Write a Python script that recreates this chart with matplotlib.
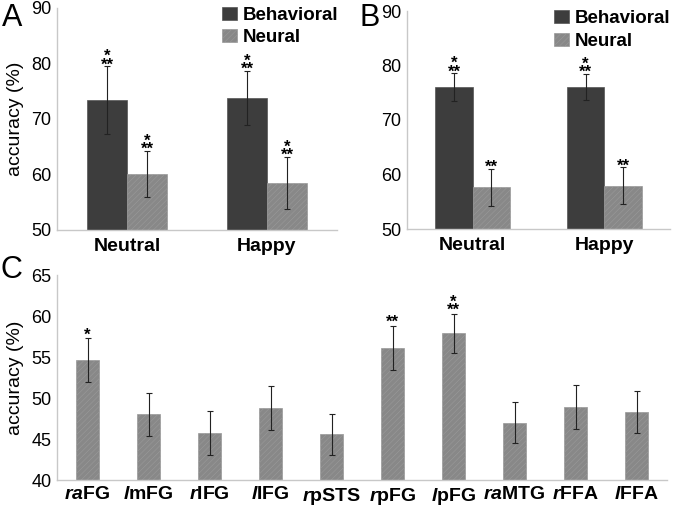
import matplotlib
matplotlib.use("Agg")
import matplotlib.pyplot as plt
from matplotlib.patches import Patch
import numpy as np

plt.rcParams['font.family'] = ['Liberation Sans', 'DejaVu Sans']
plt.rcParams['mathtext.fontset'] = 'custom'
plt.rcParams['mathtext.it'] = 'Liberation Sans:italic:bold'
plt.rcParams['mathtext.rm'] = 'Liberation Sans:bold'
plt.rcParams['hatch.linewidth'] = 0.4

# panel A / B data
conditions = ['Neutral', 'Happy']
series = ['Behavioral', 'Neural']

a_behav = [73.4, 73.8]
a_behav_err = [6.1, 4.9]
a_neural = [60.1, 58.5]
a_neural_err = [4.2, 4.7]
a_stars_behav = ['*\n**', '*\n**']
a_stars_neural = ['*\n**', '*\n**']

b_behav = [76.0, 76.1]
b_behav_err = [2.6, 2.4]
b_neural = [57.7, 57.9]
b_neural_err = [3.4, 3.4]
b_stars_behav = ['*\n**', '*\n**']
b_stars_neural = ['**', '**']

# panel C data
regions = ['ra|FG', 'l|mFG', 'r|IFG', 'l|IFG', 'r|pSTS',
           'r|pFG', 'l|pFG', 'ra|MTG', 'r|FFA', 'l|FFA']
c_vals = [54.6, 48.0, 45.7, 48.8, 45.6, 56.1, 57.9, 47.0, 48.9, 48.3]
c_err = [2.7, 2.6, 2.7, 2.7, 2.5, 2.7, 2.4, 2.5, 2.7, 2.6]
c_stars = ['*', '', '', '', '', '**', '*\n**', '', '', '']

DARK = '#3d3d3d'
GREY = '#888888'
SPINE = '#c8c8c8'

W, H = 675, 511
fig = plt.figure(figsize=(W / 100, H / 100), dpi=100)


def px_axes(left, top, right, bottom):
    return fig.add_axes([left / W, 1 - bottom / H, (right - left) / W, (bottom - top) / H])


def style(ax):
    for s in ['top', 'right']:
        ax.spines[s].set_visible(False)
    for s in ['left', 'bottom']:
        ax.spines[s].set_color(SPINE)
        ax.spines[s].set_linewidth(1.0)
    ax.tick_params(axis='both', length=0)
    ax.tick_params(axis='y', labelsize=13, pad=4)


def stars(ax, x, top, txt, gap=0):
    # one text, "*" stacked tightly over "**"
    if not txt:
        return
    ax.annotate(txt, (x, top), xytext=(0, gap - 4.5), textcoords='offset points',
                ha='center', va='bottom', multialignment='center',
                linespacing=0.45, fontsize=12, fontweight='bold')


def grouped(ax, behav, behav_err, neural, neural_err, st_b, st_n):
    x = np.arange(len(conditions))
    w = 0.285
    ax.bar(x - w / 2, behav, w, color=DARK, edgecolor='#555555', linewidth=0.5,
           label=series[0], zorder=2)
    ax.bar(x + w / 2, neural, w, color=GREY, edgecolor='#9a9a9a', linewidth=0.5,
           hatch='//////', label=series[1], zorder=2)
    ax.errorbar(x - w / 2, behav, yerr=behav_err, fmt='none', ecolor='#222222',
                elinewidth=0.8, capsize=2.5, capthick=0.8, zorder=3)
    ax.errorbar(x + w / 2, neural, yerr=neural_err, fmt='none', ecolor='#222222',
                elinewidth=0.8, capsize=2.5, capthick=0.8, zorder=3)
    for i in range(len(x)):
        stars(ax, x[i] - w / 2, behav[i] + behav_err[i], st_b[i])
        stars(ax, x[i] + w / 2, neural[i] + neural_err[i], st_n[i])
    ax.set_xlim(-0.5, len(x) - 0.5)
    ax.set_ylim(50, 90)
    ax.set_yticks([50, 60, 70, 80, 90])
    ax.set_xticks(x)
    ax.set_xticklabels(conditions, fontsize=14, fontweight='bold')
    ax.tick_params(axis='x', pad=6)
    style(ax)
    handles = [Patch(facecolor=DARK, edgecolor='#555555', linewidth=0.5),
               Patch(facecolor=GREY, edgecolor='#9a9a9a', linewidth=0.5, hatch='//////')]
    ax.legend(handles, series, loc='upper right', bbox_to_anchor=(1.03, 1.04),
              frameon=False, prop={'weight': 'bold', 'size': 13.5},
              handlelength=0.8, handleheight=0.7, handletextpad=0.3,
              labelspacing=0.3, borderaxespad=0)


# panel A
axA = px_axes(57, 8, 337, 230)
grouped(axA, a_behav, a_behav_err, a_neural, a_neural_err,
        a_stars_behav, a_stars_neural)
axA.set_ylabel('accuracy (%)', fontsize=14, labelpad=5)

# panel B
axB = px_axes(407, 11, 670, 229)
grouped(axB, b_behav, b_behav_err, b_neural, b_neural_err,
        b_stars_behav, b_stars_neural)

# panel C
axC = px_axes(57, 275, 667, 480)
xc = np.arange(len(regions))
wc = 0.39
axC.bar(xc, c_vals, wc, color=GREY, edgecolor='#9a9a9a', linewidth=0.5,
        hatch='//////', zorder=2)
axC.errorbar(xc, c_vals, yerr=c_err, fmt='none', ecolor='#222222',
             elinewidth=0.8, capsize=2.5, capthick=0.8, zorder=3)
for i in range(len(xc)):
    stars(axC, xc[i], c_vals[i] + c_err[i], c_stars[i], gap=1.5)
axC.set_xlim(-0.5, len(regions) - 0.5)
axC.set_ylim(40, 65)
axC.set_yticks([40, 45, 50, 55, 60, 65])
axC.set_xticks(xc)
labels = []
for r in regions:
    it, rest = r.split('|')
    labels.append(r'$\mathit{' + it + '}$' + rest)
axC.set_xticklabels(labels, fontsize=14, fontweight='bold')
axC.tick_params(axis='x', pad=4)
style(axC)
axC.set_ylabel('accuracy (%)', fontsize=14, labelpad=5)

# panel letters
fig.text(2 / W, 1 - 26 / H, 'A', fontsize=22)
fig.text(360 / W, 1 - 26 / H, 'B', fontsize=22)
fig.text(1 / W, 1 - 278 / H, 'C', fontsize=22)

fig.savefig('out.png', dpi=100)
